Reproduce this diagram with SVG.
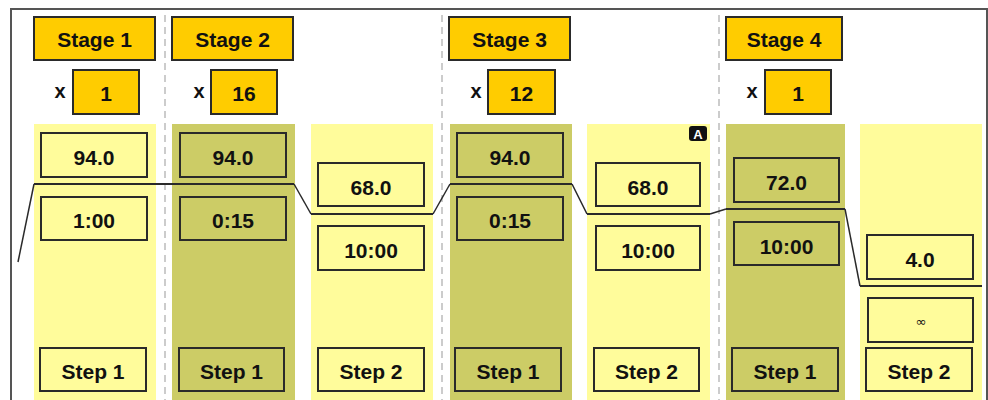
<svg xmlns="http://www.w3.org/2000/svg" width="988" height="400" viewBox="0 0 988 400">
<style>
.light{fill:#FFFC9B}
.olive{fill:#CCCC66}
.box{fill:none;stroke:#2a2a2a;stroke-width:2}
.stage{fill:#FFCC00;stroke:#2a2a2a;stroke-width:2}
.t{font-family:"Liberation Sans",Arial,sans-serif;font-weight:bold;font-size:21px;fill:#111;text-anchor:middle}
.x{font-family:"Liberation Sans",Arial,sans-serif;font-weight:bold;font-size:20px;fill:#111;text-anchor:middle}
.inf{font-family:"DejaVu Sans",sans-serif;font-size:13px;fill:#111;text-anchor:middle}
.sep{stroke:#cccccc;stroke-width:2;stroke-dasharray:7 5}
.conn{fill:none;stroke:#2a2a2a;stroke-width:2}
.slope{fill:none;stroke:#2a2a2a;stroke-width:1.5}
</style>
<rect x="0" y="0" width="988" height="400" fill="#ffffff"/>
<rect x="11" y="9" width="976" height="400" fill="none" stroke="#555" stroke-width="2"/>
<g id="separators">
<line class="sep" x1="165" y1="15" x2="165" y2="400"/>
<line class="sep" x1="442" y1="15" x2="442" y2="400"/>
<line class="sep" x1="719" y1="15" x2="719" y2="400"/>
</g>
<g id="stage1">
<rect class="stage" x="34" y="17" width="121" height="43"/>
<text class="t" x="94.5" y="47">Stage 1</text>
<text class="x" x="60" y="98">x</text>
<rect class="stage" x="73" y="70" width="66" height="44"/>
<text class="t" x="106" y="101">1</text>
</g>
<g id="stage2">
<rect class="stage" x="172" y="17" width="121" height="43"/>
<text class="t" x="232.5" y="47">Stage 2</text>
<text class="x" x="199" y="98">x</text>
<rect class="stage" x="211" y="70" width="66" height="44"/>
<text class="t" x="244" y="101">16</text>
</g>
<g id="stage3">
<rect class="stage" x="449" y="17" width="121" height="43"/>
<text class="t" x="509.5" y="47">Stage 3</text>
<text class="x" x="476" y="98">x</text>
<rect class="stage" x="488" y="70" width="67" height="44"/>
<text class="t" x="521.5" y="101">12</text>
</g>
<g id="stage4">
<rect class="stage" x="726" y="17" width="116" height="43"/>
<text class="t" x="784" y="47">Stage 4</text>
<text class="x" x="752" y="98">x</text>
<rect class="stage" x="765" y="70" width="66" height="44"/>
<text class="t" x="798" y="101">1</text>
</g>
<g id="s1-step1">
<rect class="light" x="34" y="124" width="122" height="276"/>
<rect class="box" x="41" y="133" width="106" height="44"/>
<text class="t" x="94" y="165">94.0</text>
<rect class="box" x="41" y="197" width="106" height="43"/>
<text class="t" x="94" y="228">1:00</text>
<rect class="box" x="40" y="348" width="106" height="43"/>
<text class="t" x="93" y="379">Step 1</text>
</g>
<g id="s2-step1">
<rect class="olive" x="172" y="124" width="123" height="276"/>
<rect class="box" x="180" y="133" width="106" height="44"/>
<text class="t" x="233" y="165">94.0</text>
<rect class="box" x="180" y="197" width="106" height="43"/>
<text class="t" x="233" y="228">0:15</text>
<rect class="box" x="179" y="348" width="105" height="43"/>
<text class="t" x="231.5" y="379">Step 1</text>
</g>
<g id="s2-step2">
<rect class="light" x="311" y="124" width="122" height="276"/>
<rect class="box" x="318" y="163" width="106" height="43"/>
<text class="t" x="371" y="195">68.0</text>
<rect class="box" x="318" y="226" width="106" height="44"/>
<text class="t" x="371" y="258">10:00</text>
<rect class="box" x="318" y="348" width="106" height="43"/>
<text class="t" x="371" y="379">Step 2</text>
</g>
<g id="s3-step1">
<rect class="olive" x="450" y="124" width="122" height="276"/>
<rect class="box" x="457" y="133" width="106" height="44"/>
<text class="t" x="510" y="165">94.0</text>
<rect class="box" x="457" y="197" width="106" height="43"/>
<text class="t" x="510" y="228">0:15</text>
<rect class="box" x="455" y="348" width="106" height="43"/>
<text class="t" x="508" y="379">Step 1</text>
</g>
<g id="s3-step2">
<rect class="light" x="587" y="124" width="123" height="276"/>
<rect x="689" y="126" width="18" height="15" rx="3" fill="#111"/>
<text x="698" y="138.5" font-family="Liberation Sans, Arial, sans-serif" font-weight="bold" font-size="13" fill="#fff" text-anchor="middle">A</text>
<rect class="box" x="596" y="163" width="104" height="43"/>
<text class="t" x="648" y="195">68.0</text>
<rect class="box" x="596" y="226" width="104" height="44"/>
<text class="t" x="648" y="258">10:00</text>
<rect class="box" x="594" y="348" width="105" height="43"/>
<text class="t" x="646.5" y="379">Step 2</text>
</g>
<g id="s4-step1">
<rect class="olive" x="726" y="124" width="119" height="276"/>
<rect class="box" x="734" y="158" width="105" height="44"/>
<text class="t" x="786.5" y="190">72.0</text>
<rect class="box" x="734" y="222" width="105" height="43"/>
<text class="t" x="786.5" y="254">10:00</text>
<rect class="box" x="732" y="348" width="106" height="43"/>
<text class="t" x="785" y="379">Step 1</text>
</g>
<g id="s4-step2">
<rect class="light" x="860" y="124" width="122" height="276"/>
<rect class="box" x="867" y="235" width="106" height="44"/>
<text class="t" x="920" y="267">4.0</text>
<rect class="box" x="868" y="298" width="105" height="44"/>
<text class="inf" x="921" y="326">∞</text>
<rect class="box" x="866" y="348" width="106" height="43"/>
<text class="t" x="919" y="379">Step 2</text>
</g>
<g id="connectors">
<polyline class="slope" points="18,262 34,184"/>
<line class="conn" x1="34" y1="184" x2="294" y2="184"/>
<polyline class="slope" points="294,184 311,214"/>
<line class="conn" x1="311" y1="214" x2="433" y2="214"/>
<polyline class="slope" points="433,214 450,184"/>
<line class="conn" x1="450" y1="184" x2="572" y2="184"/>
<polyline class="slope" points="572,184 587,214"/>
<line class="conn" x1="587" y1="214" x2="710" y2="214"/>
<polyline class="slope" points="710,214 726,209"/>
<line class="conn" x1="726" y1="209" x2="845" y2="209"/>
<polyline class="slope" points="845,209 860,286"/>
<line class="conn" x1="860" y1="286" x2="982" y2="286"/>
</g>
</svg>
